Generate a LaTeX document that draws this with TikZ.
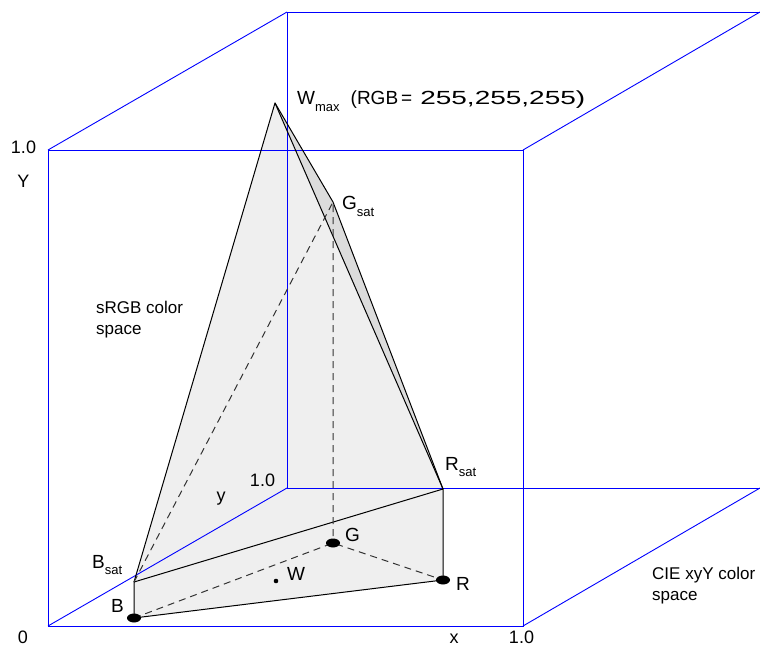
\documentclass[tikz,border=0pt]{standalone}
\usepackage{fontspec}
\setmainfont{Liberation Sans}
\usepackage{tikz}
\usetikzlibrary{calc}
\definecolor{cubeblue}{HTML}{0000FF}
\definecolor{facegrey}{HTML}{EFEFEF}
\definecolor{sidegrey}{HTML}{DCDCDC}
\newcommand{\subtxt}[1]{\raisebox{-6.5pt}{\fontsize{13}{14}\selectfont #1}}

\begin{document}
\begin{tikzpicture}[x=1pt,y=-1pt,
  every node/.style={font=\fontsize{17}{21}\selectfont,inner sep=0pt},
  ptlabel/.style={anchor=base west,font=\fontsize{19}{22}\selectfont},
  axlabel/.style={anchor=base,font=\fontsize{18}{21}\selectfont},
  cube/.style={cubeblue,line width=0.9pt},
  edge/.style={black,line width=1pt,line join=round},
  hidden/.style={black!80,line width=1pt,dash pattern=on 7pt off 5pt}]
  \useasboundingbox (0,0) rectangle (760,647);
  % corners of the gamut solid
  \coordinate (Wmax) at (275,103);
  \coordinate (Gsat) at (333,202);
  \coordinate (Rsat) at (443,489);
  \coordinate (Bsat) at (134,582);
  \coordinate (B) at (134,618);
  \coordinate (G) at (333,543);
  \coordinate (R) at (443,580);
  \coordinate (Wpt) at (276,581);
  % faces
  \fill[facegrey] (Wmax) -- (Bsat) -- (B) -- (R) -- (Rsat) -- cycle;
  \fill[sidegrey] (Wmax) -- (Gsat) -- (Rsat) -- cycle;
  % xyY cube
  \draw[cube] (48,150) rectangle (523,626);
  \draw[cube] (760,12) -- (287,12) -- (287,488) -- (760,488);
  \draw[cube] (48,150) -- (287,12);
  \draw[cube] (523,150) -- (760,12);
  \draw[cube] (48,626) -- (287,488);
  \draw[cube] (523,626) -- (760,488);
  % edges
  \draw[edge] (Bsat) -- (Wmax) -- (Rsat);
  \draw[edge] (Wmax) -- (Gsat) -- (Rsat);
  \draw[edge] (Bsat) -- (Rsat) -- (R) -- (B) -- cycle;
  \draw[hidden] (Bsat) -- (Gsat) -- (G);
  \draw[hidden] (B) -- (G) -- (R);
  % primaries and white point
  \fill (B) ellipse [x radius=7,y radius=4.5];
  \fill (G) ellipse [x radius=7,y radius=4.5];
  \fill (R) ellipse [x radius=7,y radius=4.5];
  \fill (Wpt) circle (2.3);
  % labels
  \node[ptlabel] (lWmax) at (297,105) {W\subtxt{max}\hspace{11pt}(RGB\hspace{3pt}=\hspace{8pt}\resizebox{165pt}{\height}{255,255,255)}};
  \node[ptlabel] (lGsat) at (342,210) {G\subtxt{sat}};
  \node[ptlabel] (lRsat) at (445,470) {R\subtxt{sat}};
  \node[ptlabel] (lBsat) at (92,568) {B\subtxt{sat}};
  \node[ptlabel] (lB) at (111,612) {B};
  \node[ptlabel] (lG) at (345,541) {G};
  \node[ptlabel] (lW) at (287,580) {W};
  \node[ptlabel] (lR) at (456,590) {R};
  \node[anchor=base west,align=left] (lsrgb) at (96,334) {sRGB color\\space};
  \node[anchor=base west,align=left] (lcie) at (652,600) {CIE xyY color\\space};
  % axes
  \node[axlabel] (lzero) at (23,643) {0};
  \node[axlabel] (lYone) at (23.5,153.5) {1.0};
  \node[axlabel] (lY) at (23.5,188) {Y};
  \node[axlabel] (lyone) at (262.5,486) {1.0};
  \node[axlabel] (ly) at (221,501) {y};
  \node[axlabel] (lx) at (454,643) {x};
  \node[axlabel] (lxone) at (521.5,643) {1.0};
\end{tikzpicture}
\end{document}
